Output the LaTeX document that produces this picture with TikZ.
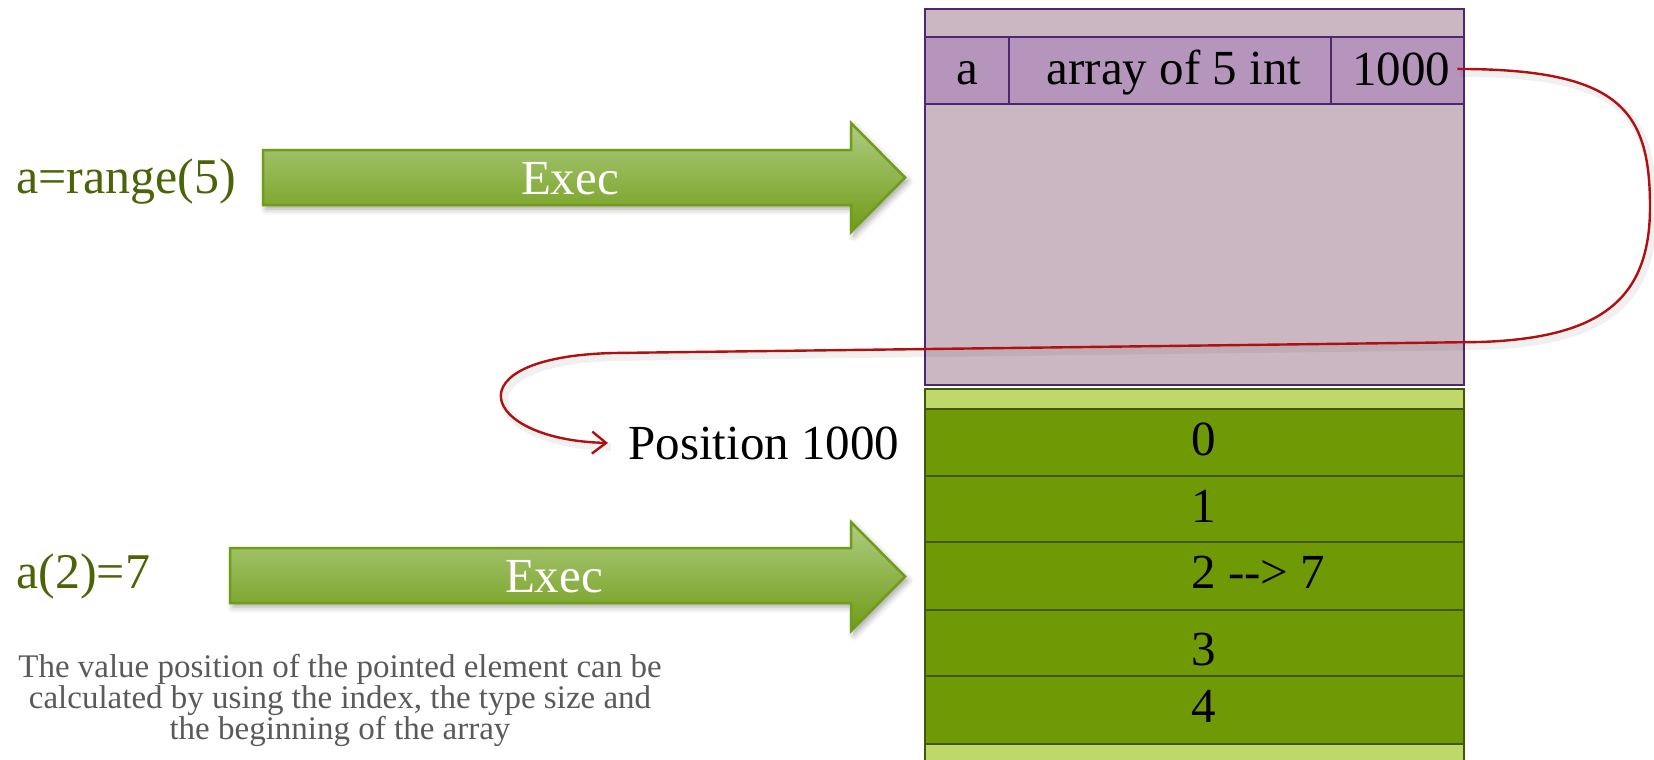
\documentclass[tikz,border=0pt]{standalone}
\usepackage{fontspec}
\setmainfont{Liberation Serif}
\usetikzlibrary{arrows.meta,shadows.blur}

\definecolor{codegreen}{RGB}{76,100,8}
\definecolor{boxmauve}{RGB}{203,183,193}
\definecolor{rowmauve}{RGB}{182,149,188}
\definecolor{purpleline}{RGB}{75,40,112}
\definecolor{cellgreen}{RGB}{111,154,6}
\definecolor{stripgreen}{RGB}{190,216,106}
\definecolor{greenline}{RGB}{66,88,8}
\definecolor{arrowtop}{RGB}{174,204,130}
\definecolor{arrowbottom}{RGB}{112,156,22}
\definecolor{arrowline}{RGB}{112,156,26}
\definecolor{linkred}{RGB}{176,16,16}
\definecolor{notegray}{RGB}{90,90,90}

\begin{document}
\begin{tikzpicture}[x=0.5pt,y=-0.5pt,
  bigtext/.style={font=\fontsize{24.5}{29}\selectfont, inner sep=0pt},
  codetext/.style={font=\fontsize{25}{29}\selectfont, inner sep=0pt, text=codegreen, anchor=base west},
  exectext/.style={bigtext, text=white, anchor=base},
  notetext/.style={font=\fontsize{16.5}{15}\selectfont, text=notegray, inner sep=0pt, anchor=base},
  execarrow/.style={draw=arrowline, line width=1.25pt, top color=arrowtop, bottom color=arrowbottom,
    blur shadow={shadow xshift=1.5pt, shadow yshift=-2pt, shadow opacity=35, shadow blur radius=3pt}},
  framebox/.style={draw=purpleline, line width=1.2pt, fill=boxmauve},
  rowcell/.style={draw=purpleline, line width=1.2pt, fill=rowmauve},
  strip/.style={draw=greenline, line width=1.3pt, fill=stripgreen},
  slot/.style={draw=greenline, line width=1.3pt, fill=cellgreen},
  link/.style={draw=linkred, line width=1.2pt, -{Straight Barb[length=7pt,width=11pt]},
    preaction={draw=black, opacity=0.06, line width=4pt, -, transform canvas={xshift=1.5pt,yshift=-2pt}}}
]
\useasboundingbox (0,0) rectangle (1654,760);

% ---- variable table ----
\draw[framebox] (925,9) rectangle (1464,385);
\draw[rowcell] (925,37) rectangle (1009,104);
\draw[rowcell] (1009,37) rectangle (1331,104);
\draw[rowcell] (1331,37) rectangle (1464,104);
\node[bigtext, anchor=base] (cella) at (967,84) {a};
\node[bigtext, anchor=base] (celltype) at (1174,84) {array of 5 int};
\node[bigtext, anchor=base, inner xsep=3.5pt] (ptr) at (1401,85) {1000};

% ---- memory cells ----
\draw[strip] (925,389) rectangle (1464,409);
\foreach \top/\bot in {409/476, 476/542, 542/610, 610/676, 676/744}
  \draw[slot] (925,\top) rectangle (1464,\bot);
\draw[strip] (925,744) rectangle (1464,770);
\node[bigtext, anchor=base west] (v0) at (1191,455) {0};
\node[bigtext, anchor=base west] (v1) at (1191,522) {1};
\node[bigtext, anchor=base west] (v2) at (1191,588) {2 -{}-> 7};
\node[bigtext, anchor=base west] (v3) at (1191,665) {3};
\node[bigtext, anchor=base west] (v4) at (1191,722) {4};

% ---- statements ----
\node[codetext] (code1) at (16,193) {a=range(5)};
\node[codetext] (code2) at (16,588) {a(2)=7};

% ---- execution arrows ----
\path[execarrow] (263,150) -- (851,150) -- (851,123) -- (905,177.5) -- (851,232) -- (851,205) -- (263,205) -- cycle;
\node[exectext] (exec1) at (570,194) {Exec};
\path[execarrow] (230,548) -- (851,548) -- (851,522) -- (905,576.5) -- (851,631) -- (851,603) -- (230,603) -- cycle;
\node[exectext] (exec2) at (554,592) {Exec};

% ---- address ----
\node[bigtext, anchor=base west] (pos) at (628,459) {Position 1000};

% ---- pointer from the variable to its data ----
\draw[link] (ptr.east) .. controls (1620,69) and (1650,110) .. (1650,207)
  .. controls (1650,300) and (1600,338) .. (1480,342)
  -- (613,353)
  .. controls (450,357) and (480,440) .. ([xshift=-10pt]pos.west);

% ---- note ----
\node[notetext] (note1) at (340,677) {The value position of the pointed element can be};
\node[notetext] (note2) at (340,708) {calculated by using the index, the type size and};
\node[notetext] (note3) at (340,739) {the beginning of the array};
\end{tikzpicture}
\end{document}
